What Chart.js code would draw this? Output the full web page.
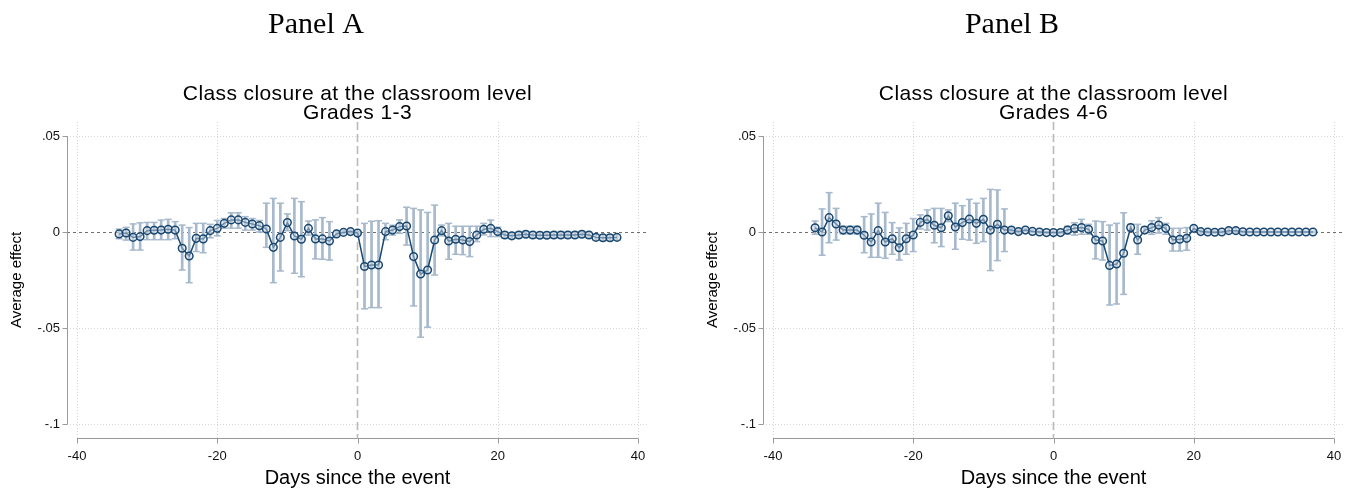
<!DOCTYPE html>
<html>
<head>
<meta charset="utf-8">
<script src="https://cdn.jsdelivr.net/npm/chart.js@4.4.1/dist/chart.umd.min.js"></script>
<style>
  body { margin: 0; background: #fff; width: 1357px; height: 496px; overflow: hidden; position: relative; }
  .panel { position: absolute; top: 0; height: 496px; }
  #wrapA { left: 0; width: 680px; }
  #wrapB { left: 696px; width: 661px; }
</style>
</head>
<body>
<div class="panel" id="wrapA"><canvas id="chartA" width="680" height="496"></canvas></div>
<div class="panel" id="wrapB"><canvas id="chartB" width="661" height="496"></canvas></div>
<script>
// days since the event
const days = [-34,-33,-32,-31,-30,-29,-28,-27,-26,-25,-24,-23,-22,-21,-20,-19,-18,-17,-16,-15,-14,-13,-12,-11,-10,-9,-8,-7,-6,-5,-4,-3,-2,-1,
  0,1,2,3,4,5,6,7,8,9,10,11,12,13,14,15,16,17,18,19,20,21,22,23,24,25,26,27,28,29,30,31,32,33,34,35,36,37];

// Panel A : grades 1-3
const estA = [-0.0010,-0.0005,-0.0028,-0.0024,0.0007,0.0009,0.0010,0.0014,0.0010,-0.0085,-0.0125,-0.0033,-0.0036,0.0007,0.0019,0.0045,0.0063,0.0063,0.0050,0.0042,0.0033,0.0016,-0.0080,-0.0028,0.0049,-0.0021,-0.0038,0.0019,-0.0036,-0.0036,-0.0047,-0.0010,-0.0002,0.0002,
  -0.0005,-0.0180,-0.0172,-0.0172,0.0002,0.0010,0.0028,0.0031,-0.0128,-0.0219,-0.0198,-0.0042,0.0007,-0.0047,-0.0038,-0.0042,-0.0050,-0.0016,0.0014,0.0019,0.0002,-0.0016,-0.0020,-0.0016,-0.0012,-0.0016,-0.0017,-0.0017,-0.0016,-0.0016,-0.0016,-0.0016,-0.0012,-0.0016,-0.0028,-0.0030,-0.0030,-0.0028];
const loA = [-0.0035,-0.0042,-0.0094,-0.0094,-0.0040,-0.0040,-0.0040,-0.0040,-0.0035,-0.0198,-0.0264,-0.0102,-0.0108,-0.0030,-0.0020,0.0020,0.0020,0.0020,0.0010,0.0010,0.0000,-0.0080,-0.0264,-0.0203,0.0007,-0.0215,-0.0233,-0.0016,-0.0140,-0.0142,-0.0146,-0.0020,-0.0010,-0.0005,
  -0.0010,-0.0400,-0.0394,-0.0394,-0.0040,-0.0016,-0.0007,-0.0068,-0.0385,-0.0548,-0.0496,-0.0224,-0.0020,-0.0142,-0.0116,-0.0118,-0.0128,-0.0050,-0.0015,-0.0024,-0.0024,-0.0031,-0.0035,-0.0031,-0.0027,-0.0031,-0.0032,-0.0032,-0.0031,-0.0031,-0.0031,-0.0031,-0.0027,-0.0031,-0.0043,-0.0045,-0.0045,-0.0043];
const hiA = [0.0015,0.0024,0.0042,0.0048,0.0050,0.0050,0.0062,0.0066,0.0054,0.0036,0.0023,0.0045,0.0045,0.0040,0.0060,0.0070,0.0100,0.0100,0.0080,0.0070,0.0060,0.0150,0.0175,0.0150,0.0094,0.0175,0.0158,0.0057,0.0063,0.0075,0.0054,0.0003,0.0006,0.0009,
  0.0001,0.0045,0.0056,0.0059,0.0045,0.0035,0.0063,0.0129,0.0123,0.0115,0.0102,0.0140,0.0036,0.0045,0.0030,0.0030,0.0030,0.0030,0.0045,0.0062,0.0025,-0.0001,-0.0005,-0.0001,0.0003,-0.0001,-0.0002,-0.0002,-0.0001,-0.0001,-0.0001,-0.0001,0.0003,-0.0001,-0.0013,-0.0015,-0.0015,-0.0013];

// Panel B : grades 4-6
const estB = [0.0022,0.0000,0.0075,0.0042,0.0010,0.0010,0.0010,-0.0017,-0.0052,0.0007,-0.0052,-0.0035,-0.0082,-0.0035,-0.0016,0.0050,0.0066,0.0035,0.0022,0.0085,0.0026,0.0049,0.0067,0.0045,0.0066,0.0010,0.0040,0.0010,0.0010,0.0002,0.0010,0.0003,0.0000,-0.0003,
  -0.0003,-0.0003,0.0010,0.0019,0.0023,0.0014,-0.0042,-0.0047,-0.0174,-0.0167,-0.0111,0.0023,-0.0042,0.0010,0.0023,0.0036,0.0019,-0.0042,-0.0038,-0.0033,0.0019,0.0002,0.0000,-0.0001,0.0000,0.0007,0.0007,0.0001,0.0000,0.0000,0.0000,0.0000,0.0000,0.0000,0.0000,0.0000,0.0000,0.0000];
const loB = [-0.0012,-0.0121,-0.0056,-0.0042,-0.0010,-0.0010,-0.0010,-0.0108,-0.0132,-0.0132,-0.0137,-0.0116,-0.0146,-0.0116,-0.0102,0.0016,0.0010,-0.0056,-0.0076,0.0054,-0.0090,-0.0038,-0.0042,-0.0059,-0.0050,-0.0201,-0.0149,-0.0102,0.0000,-0.0005,0.0003,-0.0003,-0.0005,-0.0007,
  -0.0006,-0.0008,-0.0012,-0.0016,-0.0012,-0.0012,-0.0140,-0.0146,-0.0380,-0.0375,-0.0325,0.0005,-0.0116,-0.0005,-0.0012,-0.0005,-0.0012,-0.0099,-0.0099,-0.0095,0.0005,-0.0005,-0.0005,-0.0006,-0.0005,-0.0005,-0.0007,-0.0004,-0.0003,-0.0003,-0.0003,-0.0003,-0.0003,-0.0003,-0.0003,-0.0003,-0.0003,-0.0003];
const hiB = [0.0057,0.0120,0.0205,0.0123,0.0030,0.0030,0.0030,0.0080,0.0094,0.0150,0.0102,0.0049,0.0021,0.0045,0.0070,0.0089,0.0115,0.0123,0.0123,0.0115,0.0150,0.0137,0.0170,0.0150,0.0175,0.0222,0.0219,0.0120,0.0020,0.0010,0.0017,0.0010,0.0005,0.0002,
  0.0000,0.0002,0.0030,0.0048,0.0066,0.0040,0.0057,0.0054,0.0036,0.0045,0.0100,0.0040,0.0040,0.0026,0.0059,0.0075,0.0045,0.0019,0.0019,0.0023,0.0033,0.0010,0.0005,0.0004,0.0005,0.0020,0.0022,0.0006,0.0003,0.0003,0.0003,0.0003,0.0003,0.0003,0.0003,0.0003,0.0003,0.0003];

// axes
const xTicks = [-40, -20, 0, 20, 40];
const yTicks = [-0.1, -0.05, 0, 0.05];
const yTickLabels = ['-.1', '-.05', '0', '.05'];

const navy = '#1a476f';
const ciColor = '#a7b9cc';
const textFont = 'Liberation Sans, Arial, sans-serif';

// grid, reference lines and Stata-style axes
const backdrop = {
  id: 'backdrop',
  beforeDatasetsDraw(chart) {
    const { ctx, chartArea: a, scales: { x, y } } = chart;
    ctx.save();
    ctx.lineWidth = 1;
    ctx.strokeStyle = '#d6d6d6';
    ctx.setLineDash([1, 2]);
    yTicks.forEach(v => {
      if (v === 0) return;
      const py = Math.round(y.getPixelForValue(v)) + 0.5;
      ctx.beginPath(); ctx.moveTo(a.left, py); ctx.lineTo(a.right, py); ctx.stroke();
    });
    xTicks.forEach(v => {
      if (v === 0) return;
      const px = Math.round(x.getPixelForValue(v)) + 0.5;
      ctx.beginPath(); ctx.moveTo(px, a.top); ctx.lineTo(px, a.bottom); ctx.stroke();
    });
    // y = 0
    ctx.strokeStyle = '#6e6e6e';
    ctx.setLineDash([3, 3]);
    const y0 = Math.round(y.getPixelForValue(0)) + 0.5;
    ctx.beginPath(); ctx.moveTo(a.left, y0); ctx.lineTo(a.right, y0); ctx.stroke();
    // event day
    ctx.strokeStyle = '#b9b9b9';
    ctx.lineWidth = 1.6;
    ctx.setLineDash([8, 4]);
    const x0 = x.getPixelForValue(0);
    ctx.beginPath(); ctx.moveTo(x0, a.top); ctx.lineTo(x0, a.bottom); ctx.stroke();
    // axes
    ctx.setLineDash([]);
    ctx.lineWidth = 1;
    ctx.strokeStyle = '#9a9a9a';
    const ax = a.left + 0.5, ay = a.bottom + 0.5;
    ctx.beginPath();
    ctx.moveTo(ax, y.getPixelForValue(yTicks[yTicks.length - 1]));
    ctx.lineTo(ax, y.getPixelForValue(yTicks[0]));
    yTicks.forEach(v => {
      const py = Math.round(y.getPixelForValue(v)) + 0.5;
      ctx.moveTo(ax - 5, py); ctx.lineTo(ax, py);
    });
    ctx.moveTo(x.getPixelForValue(xTicks[0]), ay);
    ctx.lineTo(x.getPixelForValue(xTicks[xTicks.length - 1]), ay);
    xTicks.forEach(v => {
      const px = Math.round(x.getPixelForValue(v)) + 0.5;
      ctx.moveTo(px, ay); ctx.lineTo(px, ay + 5);
    });
    ctx.stroke();
    ctx.restore();
  }
};

// panel letter and two-line title
const headings = {
  id: 'headings',
  afterDraw(chart, args, opts) {
    const { ctx, chartArea: a } = chart;
    const cx = (a.left + a.right) / 2;
    ctx.save();
    ctx.fillStyle = '#000';
    ctx.textAlign = 'center';
    ctx.textBaseline = 'alphabetic';
    ctx.font = '30px "Liberation Serif", "Times New Roman", serif';
    ctx.fillText(opts.panel, 316, 33);
    ctx.font = '21px ' + textFont;
    ctx.letterSpacing = '0.4px';
    ctx.fillText(opts.lines[0], cx, 100);
    ctx.fillText(opts.lines[1], cx, 119);
    ctx.restore();
  }
};

function drawPanel(id, panel, grades, est, lo, hi) {
  const line = days.map((d, i) => ({ x: d, y: est[i] }));
  const bars = days.map((d, i) => ({ x: d, y: [lo[i], hi[i]] }));
  const caps = [];
  days.forEach((d, i) => { caps.push({ x: d, y: lo[i] }); caps.push({ x: d, y: hi[i] }); });

  const ctx = document.getElementById(id).getContext('2d');
  return new Chart(ctx, {
    type: 'line',
    data: {
      datasets: [{
        type: 'line',
        data: line,
        order: 0,
        borderColor: navy,
        borderWidth: 1.5,
        tension: 0,
        pointRadius: 3.8,
        pointBorderWidth: 1.5,
        pointBorderColor: navy,
        pointBackgroundColor: 'rgba(214,225,236,0.45)'
      }, {
        type: 'scatter',
        data: caps,
        order: 1,
        showLine: false,
        pointStyle: 'line',
        pointRadius: 3.5,
        pointBorderWidth: 1.5,
        pointBorderColor: ciColor
      }, {
        type: 'bar',
        data: bars,
        order: 2,
        backgroundColor: ciColor,
        borderWidth: 0,
        barThickness: 2
      }]
    },
    options: {
      responsive: false,
      animation: false,
      devicePixelRatio: 1,
      layout: { padding: { top: 122, right: id === 'chartA' ? 32 : 13, bottom: 0, left: 0 } },
      plugins: {
        legend: { display: false },
        tooltip: { enabled: false },
        headings: { panel: panel, lines: ['Class closure at the classroom level', grades] }
      },
      scales: {
        x: {
          type: 'linear',
          offset: false,
          min: -41.426,
          max: 41.426,
          afterBuildTicks: s => { s.ticks = xTicks.map(v => ({ value: v })); },
          afterFit: s => { s.height = 58; },
          grid: { display: false, drawTicks: false },
          border: { display: false },
          ticks: { autoSkip: false, maxRotation: 0, padding: 11, color: '#111', font: { family: textFont, size: 13 } },
          title: { display: true, text: 'Days since the event', color: '#000', font: { family: textFont, size: 20 }, padding: { top: 0, bottom: 6 } }
        },
        y: {
          type: 'linear',
          min: -0.1072917,
          max: 0.0572917,
          afterBuildTicks: s => { s.ticks = yTicks.map(v => ({ value: v })); },
          afterFit: s => { s.width = 67; },
          grid: { display: false, drawTicks: false },
          border: { display: false },
          ticks: {
            autoSkip: false,
            padding: 7,
            color: '#111',
            font: { family: textFont, size: 13 },
            callback: v => yTickLabels[yTicks.indexOf(v)] ?? ''
          },
          title: { display: true, text: 'Average effect', color: '#000', font: { family: textFont, size: 15 }, padding: { top: 8, bottom: 0 } }
        }
      }
    },
    plugins: [backdrop, headings]
  });
}

drawPanel('chartA', 'Panel A', 'Grades 1-3', estA, loA, hiA);
drawPanel('chartB', 'Panel B', 'Grades 4-6', estB, loB, hiB);
</script>
</body>
</html>
